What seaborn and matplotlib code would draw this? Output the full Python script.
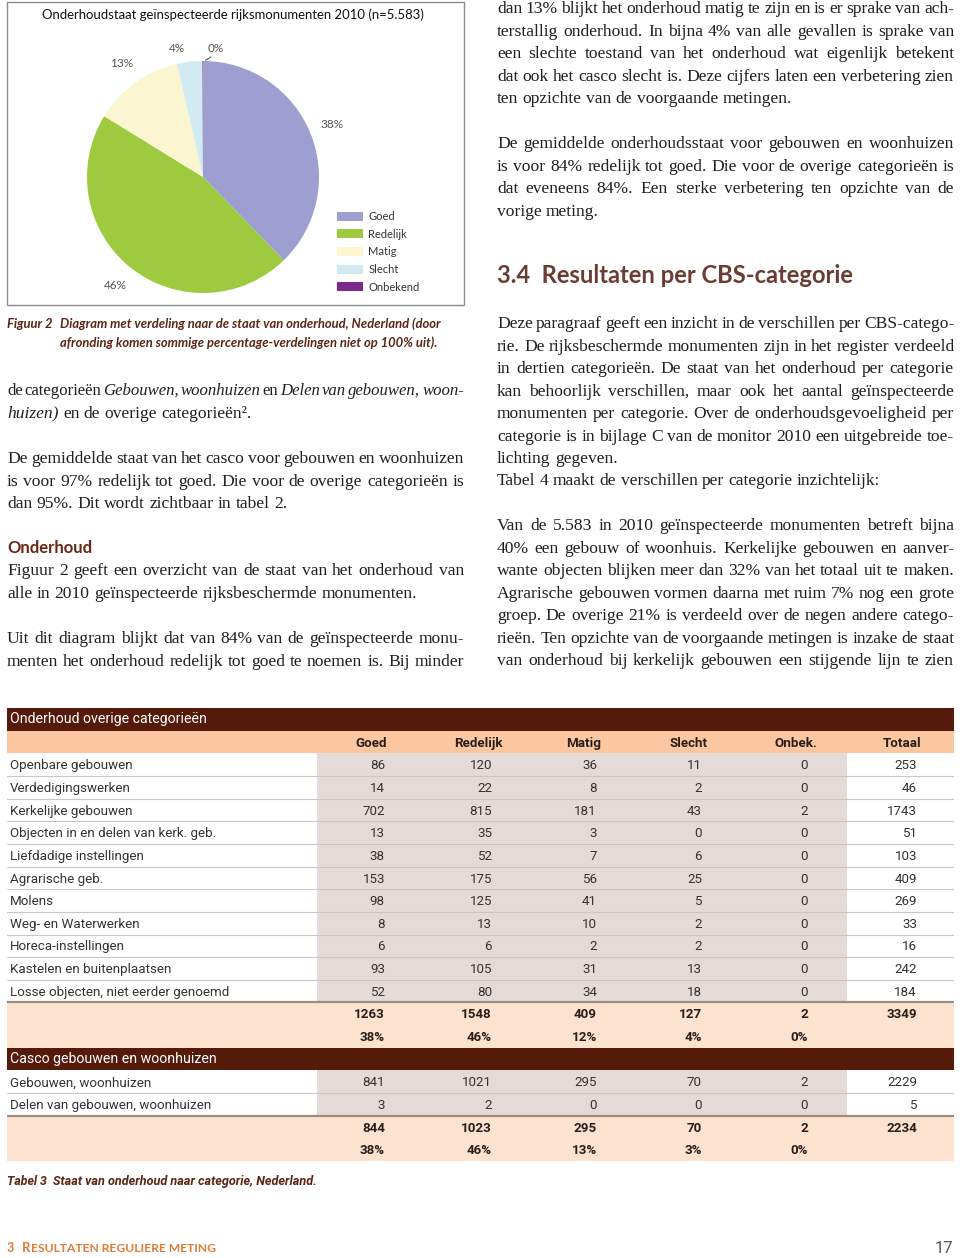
import numpy as np
import pandas as pd
import matplotlib
matplotlib.use("Agg")
import matplotlib.pyplot as plt
from matplotlib.patches import Rectangle
import seaborn as sns

W, H = 960, 1258
SERIF = ["Liberation Serif", "DejaVu Serif"]
SANS = ["Lato", "DejaVu Sans"]
NARROW = ["Roboto", "DejaVu Sans"]

INK = "#231f20"
BROWN = "#5b2616"
DARK_BAR = "#561a0a"
PEACH = "#fcc6a0"
PEACH_LIGHT = "#fde2cf"
SHADE = "#e4dad7"

# figure 2: pie legend
STATES = ["Goed", "Redelijk", "Matig", "Slecht", "Onbekend"]
STATE_COLORS = ["#9e9fd1", "#9dca3e", "#fbf6cf", "#d2ebf2", "#7b2a8c"]

# table 3
COLS = ["Goed", "Redelijk", "Matig", "Slecht", "Onbek.", "Totaal"]
OVERIG_LABELS = ["Openbare gebouwen", "Verdedigingswerken", "Kerkelijke gebouwen",
                 "Objecten in en delen van kerk. geb.", "Liefdadige instellingen",
                 "Agrarische geb.", "Molens", "Weg- en Waterwerken", "Horeca-instellingen",
                 "Kastelen en buitenplaatsen", "Losse objecten, niet eerder genoemd"]
OVERIG_GOED = [86, 14, 702, 13, 38, 153, 98, 8, 6, 93, 52]
OVERIG_REDELIJK = [120, 22, 815, 35, 52, 175, 125, 13, 6, 105, 80]
OVERIG_MATIG = [36, 8, 181, 3, 7, 56, 41, 10, 2, 31, 34]
OVERIG_SLECHT = [11, 2, 43, 0, 6, 25, 5, 2, 2, 13, 18]
OVERIG_ONBEK = [0, 0, 2, 0, 0, 0, 0, 0, 0, 0, 0]
OVERIG_TOTAAL = [253, 46, 1743, 51, 103, 409, 269, 33, 16, 242, 184]
OVERIG_SOM = [1263, 1548, 409, 127, 2, 3349]
OVERIG_PCT = ["38%", "46%", "12%", "4%", "0%", ""]

CASCO_LABELS = ["Gebouwen, woonhuizen", "Delen van gebouwen, woonhuizen"]
CASCO_GOED = [841, 3]
CASCO_REDELIJK = [1021, 2]
CASCO_MATIG = [295, 0]
CASCO_SLECHT = [70, 0]
CASCO_ONBEK = [2, 0]
CASCO_TOTAAL = [2229, 5]
CASCO_SOM = [844, 1023, 295, 70, 2, 2234]
CASCO_PCT = ["38%", "46%", "13%", "3%", "0%", ""]

# pie = both groups together (n=5.583)
PIE_COUNTS = [a + b for a, b in zip(OVERIG_SOM[:5], CASCO_SOM[:5])]

# body text: (x0, x1, y_mid, lines, justify_last)
PARAGRAPHS = [
    (7, 464, 390, ["de categorieën *Gebouwen, *woonhuizen en *Delen *van *gebouwen, *woon-",
                   "*huizen) en de overige categorieën²."], False),
    (7, 464, 458, ["De gemiddelde staat van het casco voor gebouwen en woonhuizen",
                   "is voor 97% redelijk tot goed. Die voor de overige categorieën is",
                   "dan 95%. Dit wordt zichtbaar in tabel 2."], False),
    (7, 464, 570, ["Figuur 2 geeft een overzicht van de staat van het onderhoud van",
                   "alle in 2010 geïnspecteerde rijksbeschermde monumenten."], False),
    (7, 464, 638, ["Uit dit diagram blijkt dat van 84% van de geïnspecteerde monu-",
                   "menten het onderhoud redelijk tot goed te noemen is. Bij minder"], True),
    (497, 954, 8, ["dan 13% blijkt het onderhoud matig te zijn en is er sprake van ach-",
                   "terstallig onderhoud. In bijna 4% van alle gevallen is sprake van",
                   "een slechte toestand van het onderhoud wat eigenlijk betekent",
                   "dat ook het casco slecht is. Deze cijfers laten een verbetering zien",
                   "ten opzichte van de voorgaande metingen."], False),
    (497, 954, 143, ["De gemiddelde onderhoudsstaat voor gebouwen en woonhuizen",
                     "is voor 84% redelijk tot goed. Die voor de overige categorieën is",
                     "dat eveneens 84%. Een sterke verbetering ten opzichte van de",
                     "vorige meting."], False),
    (497, 954, 323, ["Deze paragraaf geeft een inzicht in de verschillen per CBS-catego-",
                     "rie. De rijksbeschermde monumenten zijn in het register verdeeld",
                     "in dertien categorieën. De staat van het onderhoud per categorie",
                     "kan behoorlijk verschillen, maar ook het aantal geïnspecteerde",
                     "monumenten per categorie. Over de onderhoudsgevoeligheid per",
                     "categorie is in bijlage C van de monitor 2010 een uitgebreide toe-",
                     "lichting gegeven."], False),
    (497, 954, 480, ["Tabel 4 maakt de verschillen per categorie inzichtelijk:"], False),
    (497, 954, 525, ["Van de 5.583 in 2010 geïnspecteerde monumenten betreft bijna",
                     "40% een gebouw of woonhuis. Kerkelijke gebouwen en aanver-",
                     "wante objecten blijken meer dan 32% van het totaal uit te maken.",
                     "Agrarische gebouwen vormen daarna met ruim 7% nog een grote",
                     "groep. De overige 21% is verdeeld over de negen andere catego-",
                     "rieën. Ten opzichte van de voorgaande metingen is inzake de staat",
                     "van onderhoud bij kerkelijk gebouwen een stijgende lijn te zien"], True),
]
LINE_H = 22.55
BODY_SIZE = 12.6

sns.set_theme(style="white")
plt.rcParams["font.family"] = SERIF

fig = plt.figure(figsize=(W / 100, H / 100), dpi=100)
page = fig.add_axes([0, 0, 1, 1])
page.set_xlim(0, W)
page.set_ylim(H, 0)
page.axis("off")
renderer = fig.canvas.get_renderer()


def width_of(t):
    return t.get_window_extent(renderer).width


def fit(t, target):
    t.set_fontsize(t.get_fontsize() * target / width_of(t))
    return t


def text_line(x0, x1, y, line, justify):
    arts = []
    for w in line.split():
        style = "italic" if w.startswith("*") else "normal"
        arts.append(page.text(0, y, w.replace("*", ""), fontsize=BODY_SIZE, style=style,
                              family=SERIF, color=INK, va="baseline", ha="left"))
    widths = [width_of(a) for a in arts]
    space = BODY_SIZE * 100 / 72 * 0.25
    if justify and len(arts) > 1:
        space = (x1 - x0 - sum(widths)) / (len(arts) - 1)
        if space < 2.5:  # too tight: shrink this line a little
            for a in arts:
                a.set_fontsize(BODY_SIZE * 0.96)
            widths = [width_of(a) for a in arts]
            space = (x1 - x0 - sum(widths)) / (len(arts) - 1)
    x = x0
    for a, w in zip(arts, widths):
        a.set_x(x)
        x += w + space


for x0, x1, y0, lines, just_last in PARAGRAPHS:
    for i, line in enumerate(lines):
        last = i == len(lines) - 1
        text_line(x0, x1, y0 + i * LINE_H + 5, line, (not last) or just_last)

# headings
page.text(7, 553, "Onderhoud", family=SANS, fontsize=12, weight="bold", color="#6a2414",
          va="baseline")
fit(page.text(497, 283, "3.4  Resultaten per CBS-categorie", family=SANS, fontsize=16,
              weight="bold", color="#6b3c32", va="baseline"), 358)

# ---- figure 2: pie chart in a framed box
page.add_patch(Rectangle((7, 2), 457, 303, fill=False, ec="#8c8c8c", lw=1))
fit(page.text(233, 19, "Onderhoudstaat geïnspecteerde rijksmonumenten 2010 (n=5.583)",
              family=SANS, fontsize=10, color="#111111", ha="center", va="baseline"), 385)

R, CX, CY = 116, 203, 177
pie_ax = fig.add_axes([(CX - R) / W, (H - CY - R) / H, 2 * R / W, 2 * R / H])
wedges, _ = pie_ax.pie(PIE_COUNTS, colors=STATE_COLORS, startangle=90, counterclock=False,
                       wedgeprops=dict(linewidth=0))
pie_ax.set_xlim(-1, 1)
pie_ax.set_ylim(-1, 1)
shares = np.array(PIE_COUNTS) / sum(PIE_COUNTS)
for w, s in zip(wedges, shares):
    mid = np.deg2rad((w.theta1 + w.theta2) / 2)
    lbl = f"{round(s * 100)}%"
    if s < 0.01:
        pie_ax.annotate(lbl, xy=(np.cos(mid), np.sin(mid)), xytext=(13, 13),
                        textcoords="offset pixels", ha="center", va="center",
                        family=SANS, fontsize=8.5, color="#555555",
                        arrowprops=dict(arrowstyle="-", color="#444444", lw=0.7,
                                        shrinkA=0, shrinkB=2,
                                        connectionstyle="arc3,rad=-0.3"))
    elif s < 0.05:
        # small slice next to the 0% label: nudge its label to the left
        ang = mid + np.deg2rad(5)
        pie_ax.text(1.13 * np.cos(ang), 1.13 * np.sin(ang), lbl, ha="center", va="center",
                    family=SANS, fontsize=8.5, color="#555555")
    else:
        pie_ax.text(1.2 * np.cos(mid), 1.2 * np.sin(mid), lbl, ha="center", va="center",
                    family=SANS, fontsize=8.5, color="#555555")

page.legend(wedges, STATES, loc="upper left", bbox_to_anchor=(337 / W, 1 - 211 / H),
            bbox_transform=fig.transFigure, frameon=False, prop=dict(family=SANS, size=8),
            labelcolor="#333333", handlelength=2.3, handleheight=0.9, handletextpad=0.5,
            labelspacing=0.6, borderpad=0, borderaxespad=0)

# caption figure 2
cap1 = fit(page.text(60, 328, "Diagram met verdeling naar de staat van onderhoud, Nederland (door",
                     family=SANS, fontsize=9, weight="bold", style="italic", color=BROWN,
                     va="baseline"), 382)
page.text(60, 347, "afronding komen sommige percentage-verdelingen niet op 100% uit).",
          family=SANS, fontsize=cap1.get_fontsize(), weight="bold", style="italic",
          color=BROWN, va="baseline")
page.text(7, 328, "Figuur 2", family=SANS, fontsize=cap1.get_fontsize(), weight="bold",
          style="italic", color=BROWN, va="baseline")

# ---- table 3
overig = pd.DataFrame(dict(zip(COLS, [OVERIG_GOED, OVERIG_REDELIJK, OVERIG_MATIG,
                                      OVERIG_SLECHT, OVERIG_ONBEK, OVERIG_TOTAAL])),
                      index=OVERIG_LABELS)
casco = pd.DataFrame(dict(zip(COLS, [CASCO_GOED, CASCO_REDELIJK, CASCO_MATIG,
                                     CASCO_SLECHT, CASCO_ONBEK, CASCO_TOTAAL])),
                     index=CASCO_LABELS)

N_ROWS = 2 + len(overig) + 2 + 1 + len(casco) + 2
tab = fig.add_axes([7 / W, (H - 1161) / H, 947 / W, 453 / H])
tab.set_xlim(7, 954)
tab.set_ylim(N_ROWS, 0)
tab.axis("off")

NUM_RIGHT = [385, 492, 597, 702, 808, 917]
HEAD_X = [371, 478, 584, 689, 796, 902]
TXT = dict(family=NARROW, fontsize=9.6, va="center")


def bar_row(r, title):
    tab.axhspan(r, r + 1, color=DARK_BAR, lw=0)
    tab.text(10, r + 0.5, title, color="white", **{**TXT, "fontsize": 10.2})


def data_block(r0, df):
    tab.fill_betweenx([r0, r0 + len(df)], 317, 847, color=SHADE, lw=0)
    for i, (label, row) in enumerate(df.iterrows()):
        r = r0 + i
        tab.text(10, r + 0.55, label, color="#333333", **TXT)
        for x, v in zip(NUM_RIGHT, row.values):
            tab.text(x, r + 0.55, str(v), color="#333333", ha="right", **TXT)
        if i > 0:
            tab.plot([7, 954], [r, r], color="#cfc4bf", lw=0.8)


def sum_block(r0, sums, pcts):
    tab.axhspan(r0, r0 + 2, color=PEACH_LIGHT, lw=0)
    tab.plot([7, 954], [r0, r0], color="#9b8c84", lw=1.6)
    for x, v, p in zip(NUM_RIGHT, sums, pcts):
        tab.text(x, r0 + 0.55, str(v), color="#2a1e1a", ha="right", weight="bold", **TXT)
        tab.text(x, r0 + 1.55, p, color="#2a1e1a", ha="right", weight="bold", **TXT)


r = 0
bar_row(r, "Onderhoud overige categorieën")
r += 1
tab.axhspan(r, r + 1, color=PEACH, lw=0)
for x, c in zip(HEAD_X, COLS):
    tab.text(x, r + 0.55, c, color="#2a1e1a", ha="center", weight="bold", **TXT)
r += 1
data_block(r, overig)
r += len(overig)
sum_block(r, OVERIG_SOM, OVERIG_PCT)
r += 2
bar_row(r, "Casco gebouwen en woonhuizen")
r += 1
data_block(r, casco)
r += len(casco)
sum_block(r, CASCO_SOM, CASCO_PCT)

# table caption
fit(page.text(7, 1185, "Tabel 3", family=NARROW, fontsize=10, weight="bold", style="italic",
              color=BROWN, va="baseline"), 40)
fit(page.text(53, 1185, "Staat van onderhoud naar categorie, Nederland.", family=NARROW,
              fontsize=10, weight="bold", style="italic", color=BROWN, va="baseline"), 263)

# footer
ORANGE = "#e07a34"
page.text(7, 1252, "3", family=SANS, fontsize=9, weight="bold", color=ORANGE, va="baseline")
big = page.text(22, 1252, "R", family=SANS, fontsize=9.5, weight="bold", color=ORANGE,
                va="baseline")
x_small = 22 + width_of(big) + 0.5
fit(page.text(x_small, 1252, "ESULTATEN REGULIERE METING", family=SANS, fontsize=7.2,
              weight="bold", color=ORANGE, va="baseline"), 215 - x_small)
page.text(953, 1253, "17", family=NARROW, fontsize=12, color="#555555", ha="right",
          va="baseline")

fig.savefig("out.png", dpi=100)
